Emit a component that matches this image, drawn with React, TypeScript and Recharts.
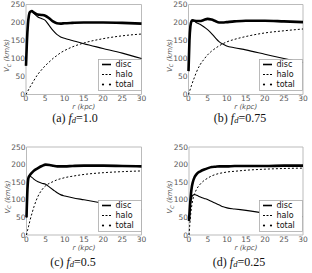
import { LineChart, Line, XAxis, YAxis, ReferenceArea, Legend } from "recharts"

// radius samples (kpc), shared by every panel
const radii = [0, 0.25, 0.5, 0.75, 1, 1.5, 2, 3, 4, 5, 6, 7, 8, 9, 10, 12, 15, 20, 25, 30]

const xTicks = [0, 5, 10, 15, 20, 25, 30]
const yTicks = [0, 50, 100, 150, 200, 250]
const legendLabels = ["disc", "halo", "total"]

const panelTags = ["(a)", "(b)", "(c)", "(d)"]
const fdValues = ["1.0", "0.75", "0.5", "0.25"]

// (a) f_d = 1.0
const discA = [80, 150, 195, 218, 228, 231, 226, 216, 211, 206, 192, 178, 167, 160, 156, 150, 141, 128, 115, 100]
const haloA = [0, 5, 10, 15, 20, 29, 38, 55, 68, 80, 90, 100, 108, 116, 122, 132, 143, 155, 163, 168]
const totalA = [80, 150, 195, 219, 229, 232, 228, 222, 221, 219, 212, 203, 198, 197, 198, 199, 200, 200, 199, 197]

// (b) f_d = 0.75
const discB = [65, 150, 190, 202, 205, 204, 200, 195, 188, 180, 170, 158, 147, 140, 135, 130, 124, 112, 100, 89]
const haloB = [0, 8, 16, 24, 32, 46, 60, 82, 97, 110, 120, 128, 135, 141, 146, 153, 161, 171, 177, 182]
const totalB = [65, 150, 190, 203, 206, 205, 204, 204, 207, 210, 208, 204, 200, 200, 201, 203, 205, 205, 203, 201]

// (c) f_d = 0.5
const discC = [50, 130, 160, 165, 166, 163, 158, 151, 147, 144, 136, 128, 120, 114, 111, 106, 100, 90, 80, 72]
const haloC = [0, 12, 23, 34, 45, 64, 82, 110, 128, 140, 147, 152, 157, 160, 163, 167, 172, 177, 180, 182]
const totalC = [50, 130, 162, 168, 172, 178, 183, 190, 196, 200, 199, 197, 195, 195, 195, 196, 197, 197, 196, 195]

// (d) f_d = 0.25
const discD = [40, 75, 95, 108, 113, 115, 113, 108, 104, 100, 95, 90, 85, 80, 77, 74, 70, 62, 57, 52]
const haloD = [0, 35, 65, 85, 100, 118, 130, 145, 155, 162, 168, 172, 175, 177, 179, 181, 184, 187, 189, 190]
const totalD = [40, 82, 115, 137, 150, 165, 173, 181, 186, 190, 193, 194, 195, 195, 195, 196, 196, 196, 197, 197]

const series = [
  [discA, haloA, totalA],
  [discB, haloB, totalB],
  [discC, haloC, totalC],
  [discD, haloD, totalD],
]

// plot boxes on the 312x273 page
const boxes = [
  { px: 26, py: 4.5, pw: 115.5, ph: 90, cx: 75 },
  { px: 188.5, py: 4.5, pw: 114.5, ph: 90, cx: 240 },
  { px: 26.5, py: 147, pw: 115, ph: 88, cx: 73 },
  { px: 189, py: 147, pw: 114, ph: 88, cx: 239 },
]

const W = 312
const H = 273
const Y_AXIS_W = 26
const X_AXIS_H = 16
const TICK_STYLE = { fontSize: 7.5, fill: "#555", fontFamily: "DejaVu Sans" }
const FRAME = "#bbb"

function LegendBox() {
  return (
    <svg width={44} height={32} style={{ display: "block" }}>
      <rect x={0.5} y={0.5} width={43} height={31} fill="#fff" stroke="#aaa" strokeWidth={0.8} />
      <line x1={4} x2={13} y1={5.5} y2={5.5} stroke="#000" strokeWidth={1.6} />
      <line x1={4} x2={13} y1={15.5} y2={15.5} stroke="#000" strokeWidth={1.2} strokeDasharray="2 1.5" />
      <circle cx={5} cy={25.5} r={1.1} fill="#000" />
      <circle cx={12} cy={25.5} r={1.1} fill="#000" />
      {legendLabels.map((label, i) => (
        <text
          key={label}
          x={17.5}
          y={5.5 + i * 10}
          dominantBaseline="central"
          fontSize={8}
          fontFamily="DejaVu Sans"
          fill="#111"
        >
          {label}
        </text>
      ))}
    </svg>
  )
}

function Panel({ index }: { index: number }) {
  const { px, py, pw, ph } = boxes[index]
  const [disc, halo, total] = series[index]
  const data = radii.map((r, i) => ({ r, disc: disc[i], halo: halo[i], total: total[i] }))

  return (
    <div style={{ position: "absolute", left: 0, top: 0 }}>
      <LineChart
        width={W}
        height={H}
        data={data}
        margin={{
          top: py,
          left: px - Y_AXIS_W,
          right: W - px - pw,
          bottom: H - py - ph - X_AXIS_H,
        }}
      >
        <XAxis
          dataKey="r"
          type="number"
          domain={[0, 30]}
          ticks={xTicks}
          height={X_AXIS_H}
          axisLine={false}
          tickLine={false}
          tickSize={0}
          tickMargin={1.5}
          tick={TICK_STYLE}
          interval={0}
        />
        <YAxis
          type="number"
          domain={[0, 250]}
          ticks={yTicks}
          width={Y_AXIS_W}
          axisLine={false}
          tickLine={false}
          tickSize={0}
          tickMargin={1}
          tick={TICK_STYLE}
          interval={0}
        />
        <ReferenceArea x1={0} x2={30} y1={0} y2={250} fill="none" stroke={FRAME} strokeWidth={1} />
        <Line dataKey="halo" type="monotone" stroke="#000" strokeWidth={1} strokeDasharray="2 2" dot={false} isAnimationActive={false} />
        <Line dataKey="disc" type="monotone" stroke="#000" strokeWidth={1.1} dot={false} isAnimationActive={false} />
        <Line dataKey="total" type="monotone" stroke="#000" strokeWidth={2.6} dot={false} isAnimationActive={false} />
        <Legend
          layout="vertical"
          align="center"
          verticalAlign="middle"
          content={() => <LegendBox />}
          wrapperStyle={{ left: px + pw - 44, top: py + ph - 35.5, width: 44, height: 32 }}
        />
      </LineChart>
    </div>
  )
}

function Titles() {
  return (
    <svg
      width={W}
      height={H}
      style={{ position: "absolute", left: 0, top: 0, pointerEvents: "none" }}
    >
      {boxes.map(({ px, py, pw, ph, cx }, i) => {
        const yMid = py + ph / 2 + 6
        const capY = i < 2 ? 118 : 262
        return (
          <g key={i}>
            <text
              transform={`translate(${px - 19},${yMid}) rotate(-90)`}
              textAnchor="middle"
              dominantBaseline="central"
              fontSize={7}
              fontFamily="DejaVu Sans"
              fontStyle="italic"
              fill="#555"
            >
              V<tspan fontSize={5} dy={1.5}>C</tspan>
              <tspan dy={-1.5}> (km/s)</tspan>
            </text>
            <text
              x={px + pw / 2}
              y={py + ph + 12.5}
              textAnchor="middle"
              dominantBaseline="central"
              fontSize={7}
              fontFamily="DejaVu Sans"
              fontStyle="italic"
              fill="#555"
            >
              r (kpc)
            </text>
            <text
              x={cx}
              y={capY}
              textAnchor="middle"
              dominantBaseline="central"
              fontSize={12}
              fontFamily="Liberation Serif"
              fill="#111"
            >
              {panelTags[i]}{" "}
              <tspan fontStyle="italic">f</tspan>
              <tspan fontStyle="italic" fontSize={8.5} dy={2}>d</tspan>
              <tspan dy={-2}>=</tspan>
              {fdValues[i]}
            </text>
          </g>
        )
      })}
    </svg>
  )
}

export default function App() {
  return (
    <div style={{ position: "absolute", left: 0, top: 0, width: W, height: H, background: "#fff" }}>
      {boxes.map((_, i) => (
        <Panel key={i} index={i} />
      ))}
      <Titles />
    </div>
  )
}
